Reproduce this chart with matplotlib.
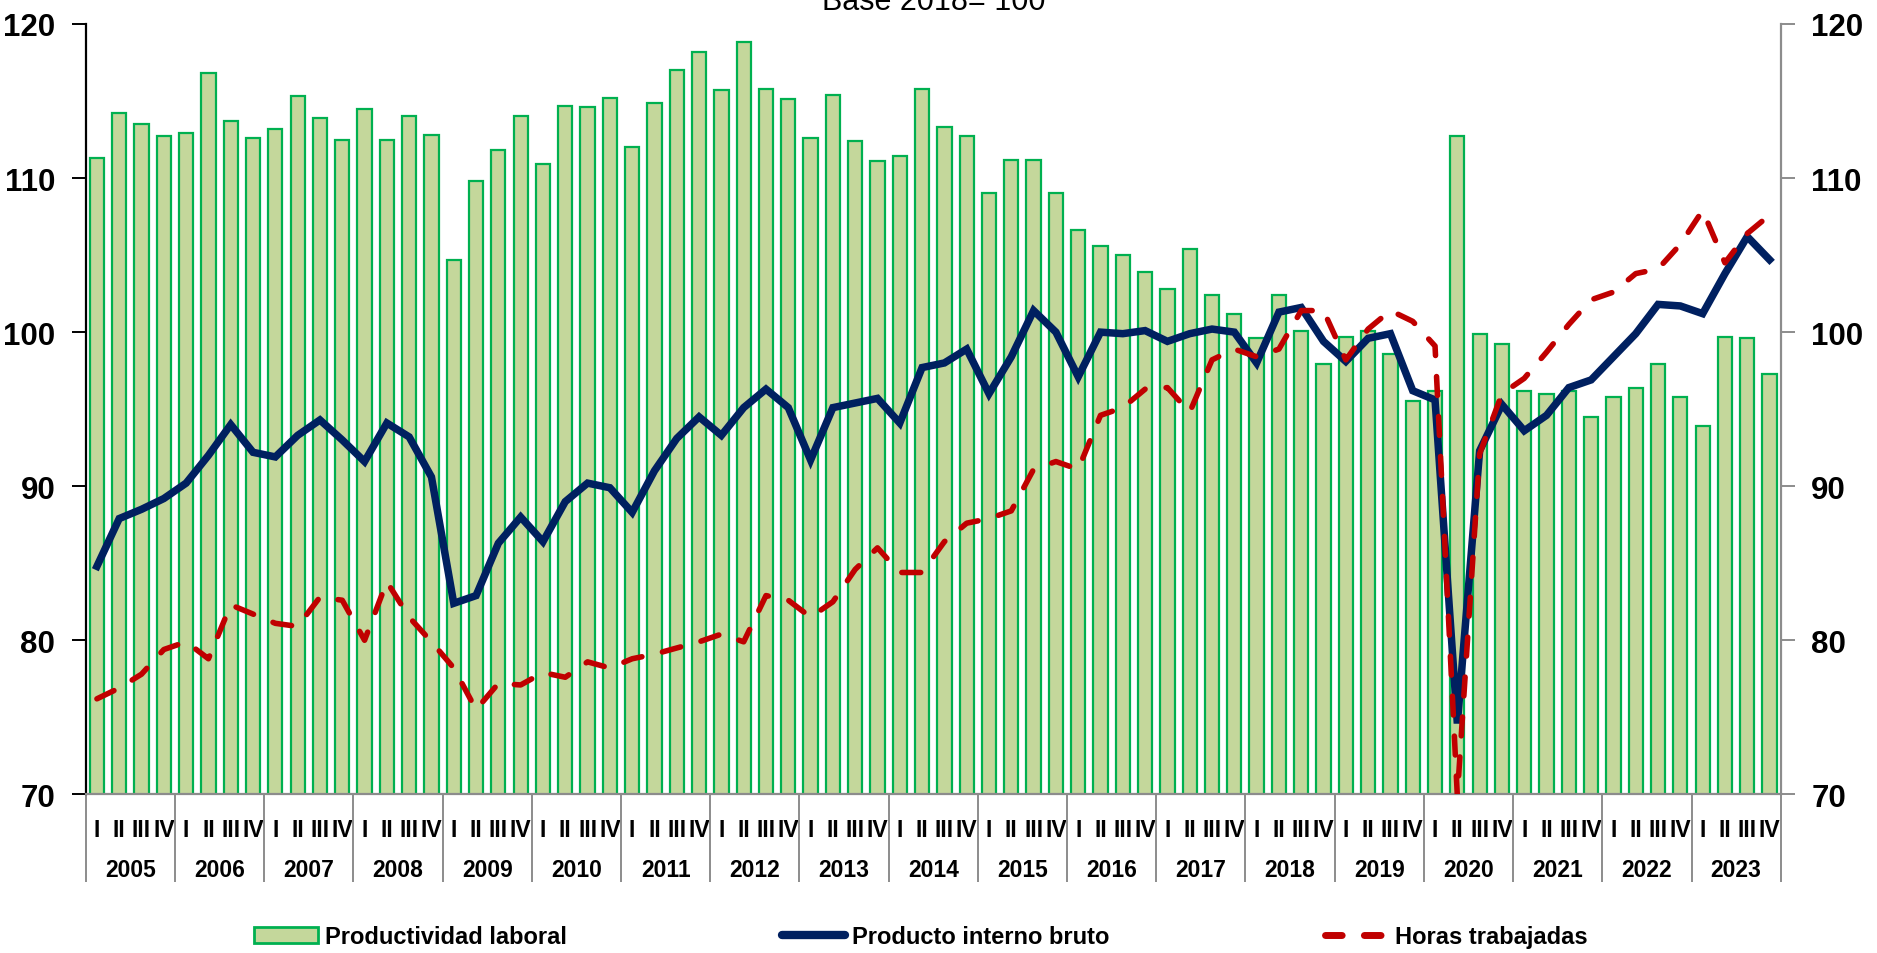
import numpy as np
import matplotlib
matplotlib.use("Agg")
import matplotlib.pyplot as plt
from matplotlib import font_manager
from matplotlib.patches import Patch
from matplotlib.lines import Line2D
import matplotlib.transforms as mtransforms

years = [str(y) for y in range(2005, 2024)]
quarters = ["I", "II", "III", "IV"]

productividad = [111.3, 114.2, 113.5, 112.7, 112.9, 116.8, 113.7, 112.6,
                 113.2, 115.3, 113.9, 112.5, 114.5, 112.5, 114.0, 112.8,
                 104.7, 109.8, 111.8, 114.0, 110.9, 114.7, 114.6, 115.2,
                 112.0, 114.9, 117.0, 118.2, 115.7, 118.8, 115.8, 115.1,
                 112.6, 115.4, 112.4, 111.1, 111.4, 115.8, 113.3, 112.7,
                 109.0, 111.2, 111.2, 109.0, 106.6, 105.6, 105.0, 103.9,
                 102.8, 105.4, 102.4, 101.2, 99.6, 102.4, 100.1, 97.9,
                 99.7, 100.1, 98.6, 95.5, 96.2, 112.7, 99.9, 99.2,
                 96.2, 96.0, 96.2, 94.5, 95.8, 96.4, 97.9, 95.8,
                 93.9, 99.7, 99.6, 97.3]

pib = [84.8, 87.9, 88.5, 89.2, 90.2, 92.0, 94.0, 92.2,
       91.9, 93.3, 94.3, 93.0, 91.6, 94.1, 93.2, 90.6,
       82.4, 82.9, 86.3, 88.0, 86.4, 89.0, 90.2, 89.9,
       88.3, 91.0, 93.1, 94.5, 93.3, 95.1, 96.3, 95.1,
       91.7, 95.1, 95.4, 95.7, 94.1, 97.7, 98.0, 98.9,
       96.0, 98.4, 101.4, 100.0, 97.1, 100.0, 99.9, 100.1,
       99.4, 99.9, 100.2, 100.0, 98.0, 101.3, 101.6, 99.4,
       98.1, 99.6, 99.9, 96.2, 95.6, 74.6, 92.3, 95.3,
       93.6, 94.6, 96.4, 96.9, 98.4, 99.9, 101.8, 101.7,
       101.2, 103.8, 106.2, 104.7]

horas = [76.2, 76.9, 77.8, 79.4, 79.9, 78.8, 82.3, 81.7,
         81.1, 80.9, 82.8, 82.6, 80.0, 83.8, 81.5, 79.9,
         78.2, 75.5, 77.2, 77.1, 77.9, 77.6, 78.6, 78.2,
         78.8, 79.1, 79.5, 79.9, 80.4, 79.9, 82.9, 82.6,
         81.5, 82.5, 84.6, 86.0, 84.4, 84.4, 86.4, 87.6,
         87.9, 88.4, 91.1, 91.6, 91.1, 94.6, 95.1, 96.3,
         96.4, 94.8, 98.2, 98.9, 98.4, 98.9, 101.4, 101.4,
         98.2, 100.2, 101.4, 100.7, 99.1, 69.9, 92.1, 96.0,
         97.0, 98.7, 100.5, 102.1, 102.6, 103.8, 104.1, 105.7,
         107.9, 104.5, 106.4, 107.6]

yticks = [70, 80, 90, 100, 110, 120]
titulo = "Base 2018= 100"
series_names = ["Productividad laboral", "Producto interno bruto", "Horas trabajadas"]

names = {f.name for f in font_manager.fontManager.ttflist}
narrow = "Liberation Sans Narrow" if "Liberation Sans Narrow" in names else "Liberation Sans"
plt.rcParams["font.family"] = [narrow, "DejaVu Sans"]

BAR_FILL = "#C4D79B"
BAR_EDGE = "#00B050"
NAVY = "#002060"
RED = "#C00000"
GRAY = "#8C8C8C"

fig = plt.figure(figsize=(18.77, 9.54), dpi=100)
ax = fig.add_axes([0.0457, 0.1663, 0.9030, 0.8075])

n = len(productividad)
x = np.arange(n)
ax.bar(x, productividad, width=0.64, color=BAR_FILL, edgecolor=BAR_EDGE,
       linewidth=1.6, zorder=2)
ax.plot(x, pib, color=NAVY, linewidth=5.4, solid_joinstyle="miter", zorder=3)
ax.plot(x, horas, color=RED, linewidth=4.0, dashes=(3.4, 3.8),
        dash_capstyle="round", zorder=4)

ax.set_xlim(-0.5, n - 0.5)
ax.set_ylim(yticks[0], yticks[-1])
ax.set_yticks(yticks)
ax.set_yticklabels([str(v) for v in yticks], fontsize=22.5, fontweight="bold")
ax.tick_params(axis="y", length=10, width=1.4, color="black", pad=12)

# quarter labels
ax.set_xticks(x)
ax.set_xticklabels([quarters[i % 4] for i in x], fontsize=16.5, fontweight="bold")
ax.tick_params(axis="x", which="major", length=0, pad=17)
# year separators
ax.set_xticks(np.arange(-0.5, n, 4), minor=True)
ax.tick_params(axis="x", which="minor", length=63, width=1.4, color=GRAY)

trans = mtransforms.blended_transform_factory(ax.transData, ax.transAxes)
for k, yr in enumerate(years):
    ax.text(4 * k + 1.5, -0.097, yr, transform=trans, ha="center", va="center",
            fontsize=16.5, fontweight="bold")

ax.spines["top"].set_visible(False)
ax.spines["left"].set_color("black")
ax.spines["left"].set_linewidth(1.6)
ax.spines["bottom"].set_color(GRAY)
ax.spines["bottom"].set_linewidth(1.6)
ax.spines["right"].set_visible(False)

ax2 = ax.twinx()
ax2.set_ylim(yticks[0], yticks[-1])
ax2.set_yticks(yticks)
ax2.set_yticklabels([str(v) for v in yticks], fontsize=22.5, fontweight="bold")
ax2.tick_params(axis="y", length=10, width=1.4, color=GRAY, pad=12)
for s in ["top", "left", "bottom"]:
    ax2.spines[s].set_visible(False)
ax2.spines["right"].set_color(GRAY)
ax2.spines["right"].set_linewidth(1.6)

fig.text(0.4976, 0.9895, titulo, ha="center", va="baseline", fontsize=22,
         family=["Liberation Sans", "DejaVu Sans"])

handles = [
    Patch(facecolor=BAR_FILL, edgecolor=BAR_EDGE, linewidth=2),
    Line2D([], [], color=NAVY, linewidth=6, solid_capstyle="round"),
    Line2D([], [], color=RED, linewidth=5, dashes=(2.4, 3.2), dash_capstyle="round"),
]
leg = fig.legend(handles, series_names, loc="center", bbox_to_anchor=(0.4907, 0.0168),
                 ncol=3, frameon=False, handlelength=2.7, handletextpad=0.3,
                 columnspacing=9.1, prop={"size": 17, "weight": "bold"})

fig.savefig("out.png", dpi=100)
